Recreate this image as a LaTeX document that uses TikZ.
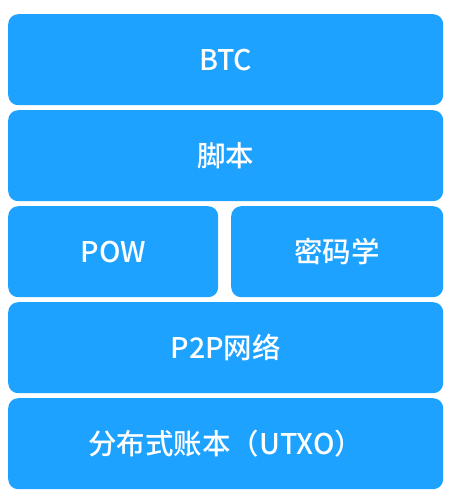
\documentclass[tikz,border=0pt]{standalone}
\usepackage{fontspec}
\setmainfont{Noto Sans CJK SC}[BoldFont={Noto Sans CJK SC Medium}]
\usetikzlibrary{positioning}
\definecolor{layerblue}{HTML}{1EA2FF}
\tikzset{layer/.style={fill=layerblue, rounded corners=10pt, text=white, inner sep=0pt, anchor=north west,
  font=\fontsize{28.5}{32}\selectfont\bfseries}}

\begin{document}
\begin{tikzpicture}[x=1pt,y=-1pt]
\useasboundingbox (0,0) rectangle (456,504);
\node[layer, minimum width=435pt, minimum height=91pt] (btc) at (8,14) {BTC};
\node[layer, minimum width=435pt, minimum height=91pt] (script) at (8,110) {脚本};
\node[layer, minimum width=210pt, minimum height=91pt] (pow) at (8,206) {POW};
\node[layer, minimum width=212pt, minimum height=91pt] (crypto) at (231,206) {密码学};
\node[layer, minimum width=435pt, minimum height=91pt] (p2p) at (8,302) {P2P网络};
\node[layer, minimum width=435pt, minimum height=91pt] (ledger) at (8,398) {分布式账本（UTXO）};
\end{tikzpicture}
\end{document}
